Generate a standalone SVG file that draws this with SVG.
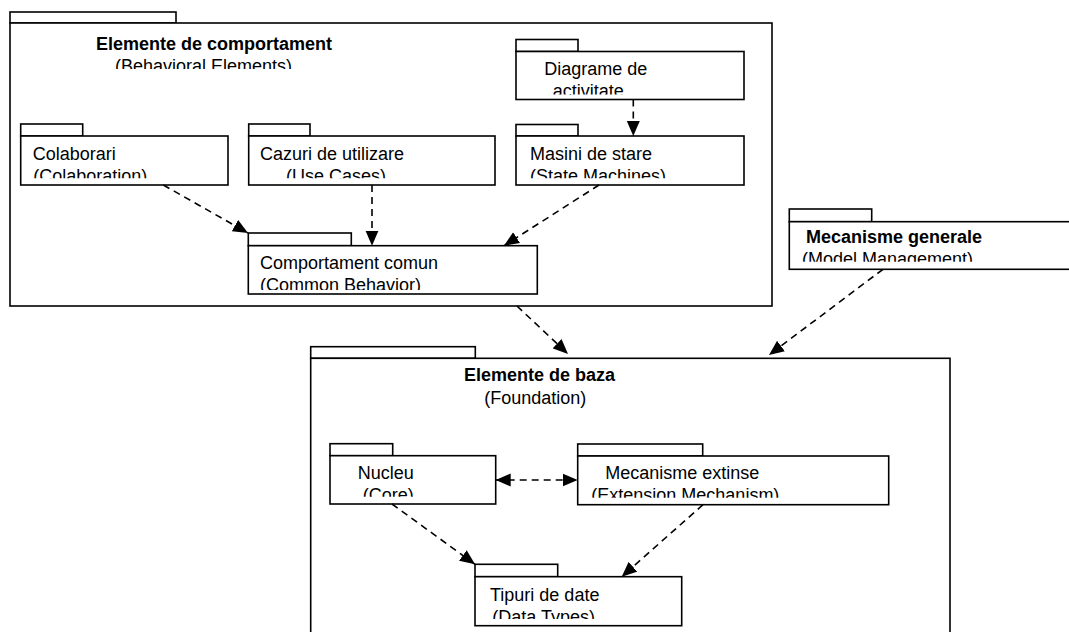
<svg xmlns="http://www.w3.org/2000/svg" width="1069" height="632" viewBox="0 0 1069 632">
<style>
.box{fill:#fff;stroke:#000;stroke-width:1.6}
.t{font-family:"Liberation Sans",Arial,sans-serif;font-size:18px;fill:#000}
.b{font-weight:bold}
.dep{fill:none;stroke:#000;stroke-width:1.6;stroke-dasharray:7,5}
</style>
<defs>
<marker id="ah" markerUnits="userSpaceOnUse" markerWidth="16" markerHeight="14" refX="15" refY="7" orient="auto-start-reverse" viewBox="0 0 16 14">
<path d="M0,0.5 L15,7 L0,13.5 z" fill="#000"/>
</marker>
<clipPath id="c-beh"><rect x="10" y="23" width="762" height="46"/></clipPath>
<clipPath id="c-dia"><rect x="516" y="51.5" width="228" height="43"/></clipPath>
<clipPath id="c-col"><rect x="20.7" y="136" width="207" height="42.3"/></clipPath>
<clipPath id="c-caz"><rect x="248.7" y="136" width="246" height="42.3"/></clipPath>
<clipPath id="c-mas"><rect x="516" y="136" width="228" height="42.3"/></clipPath>
<clipPath id="c-com"><rect x="248.3" y="245.7" width="289" height="44.3"/></clipPath>
<clipPath id="c-mg"><rect x="789.3" y="221.7" width="300" height="40"/></clipPath>
<clipPath id="c-nuc"><rect x="330" y="455.7" width="165.7" height="41"/></clipPath>
<clipPath id="c-ext"><rect x="577.7" y="456" width="311" height="41.7"/></clipPath>
<clipPath id="c-tip"><rect x="475" y="576.7" width="206.7" height="42.3"/></clipPath>
</defs>

<g id="behavioral-elements">
<rect class="box" x="10" y="12" width="166" height="11"/>
<rect class="box" x="10" y="23" width="762" height="283"/>
<g clip-path="url(#c-beh)">
<text class="t b" x="96" y="50">Elemente de comportament</text>
<text class="t" x="115" y="71.5">(Behavioral Elements)</text>
</g>
</g>

<g id="diagrame-activitate">
<rect class="box" x="516" y="39.5" width="62" height="12"/>
<rect class="box" x="516" y="51.5" width="228" height="48"/>
<g clip-path="url(#c-dia)">
<text class="t" x="544.3" y="75">Diagrame de</text>
<text class="t" x="552.7" y="97">activitate</text>
</g>
</g>

<g id="colaborari">
<rect class="box" x="20.7" y="124" width="62" height="12"/>
<rect class="box" x="20.7" y="136" width="207.3" height="49"/>
<g clip-path="url(#c-col)">
<text class="t" x="32.7" y="160">Colaborari</text>
<text class="t" x="33.3" y="182">(Colaboration)</text>
</g>
</g>

<g id="cazuri-utilizare">
<rect class="box" x="248.7" y="124" width="61.3" height="12"/>
<rect class="box" x="248.7" y="136" width="246.3" height="49"/>
<g clip-path="url(#c-caz)">
<text class="t" x="260" y="160">Cazuri de utilizare</text>
<text class="t" x="286" y="182">(Use Cases)</text>
</g>
</g>

<g id="masini-stare">
<rect class="box" x="516" y="124.5" width="62" height="11.5"/>
<rect class="box" x="516" y="136" width="228" height="49"/>
<g clip-path="url(#c-mas)">
<text class="t" x="530" y="159.5">Masini de stare</text>
<text class="t" x="530" y="182">(State Machines)</text>
</g>
</g>

<g id="comportament-comun">
<rect class="box" x="248.3" y="233" width="103" height="12.7"/>
<rect class="box" x="248.3" y="245.7" width="289" height="48.3"/>
<g clip-path="url(#c-com)">
<text class="t" x="260" y="269">Comportament comun</text>
<text class="t" x="260" y="291">(Common Behavior)</text>
</g>
</g>

<g id="mecanisme-generale">
<rect class="box" x="789.3" y="209" width="82.4" height="12.7"/>
<rect class="box" x="789.3" y="221.7" width="300" height="47.6"/>
<g clip-path="url(#c-mg)">
<text class="t b" x="806" y="243.3">Mecanisme generale</text>
<text class="t" x="802" y="265">(Model Management)</text>
</g>
</g>

<g id="foundation">
<rect class="box" x="310.7" y="346.7" width="164.6" height="11.6"/>
<rect class="box" x="310.7" y="358.3" width="639.3" height="300"/>
<text class="t b" x="464" y="380.7">Elemente de baza</text>
<text class="t" x="484.3" y="404">(Foundation)</text>
</g>

<g id="nucleu">
<rect class="box" x="330" y="443.7" width="62.7" height="12"/>
<rect class="box" x="330" y="455.7" width="165.7" height="48.3"/>
<g clip-path="url(#c-nuc)">
<text class="t" x="357.7" y="479.3">Nucleu</text>
<text class="t" x="362.7" y="501">(Core)</text>
</g>
</g>

<g id="mecanisme-extinse">
<rect class="box" x="577.7" y="444" width="125" height="12"/>
<rect class="box" x="577.7" y="456" width="311" height="48.7"/>
<g clip-path="url(#c-ext)">
<text class="t" x="605.3" y="479">Mecanisme extinse</text>
<text class="t" x="591.3" y="501">(Extension Mechanism)</text>
</g>
</g>

<g id="tipuri-date">
<rect class="box" x="475" y="564.3" width="82.7" height="12.4"/>
<rect class="box" x="475" y="576.7" width="206.7" height="49"/>
<g clip-path="url(#c-tip)">
<text class="t" x="490" y="600.7">Tipuri de date</text>
<text class="t" x="492.3" y="622.7">(Data Types)</text>
</g>
</g>

<g id="connectors">
<path class="dep" d="M633.3,99.5 L633.3,136" marker-end="url(#ah)"/>
<path class="dep" d="M163.3,185 L248,233" marker-end="url(#ah)"/>
<path class="dep" d="M372,185 L372,245.7" marker-end="url(#ah)"/>
<path class="dep" d="M599,185 L504,245.7" marker-end="url(#ah)"/>
<path class="dep" d="M517,306 L568,354" marker-end="url(#ah)"/>
<path class="dep" d="M883,269.3 L769,355" marker-end="url(#ah)"/>
<path class="dep" d="M495.7,480 L577.7,480" marker-start="url(#ah)" marker-end="url(#ah)"/>
<path class="dep" d="M392,504 L475,564.3" marker-end="url(#ah)"/>
<path class="dep" d="M703,504.7 L621.7,576.7" marker-end="url(#ah)"/>
</g>
</svg>
